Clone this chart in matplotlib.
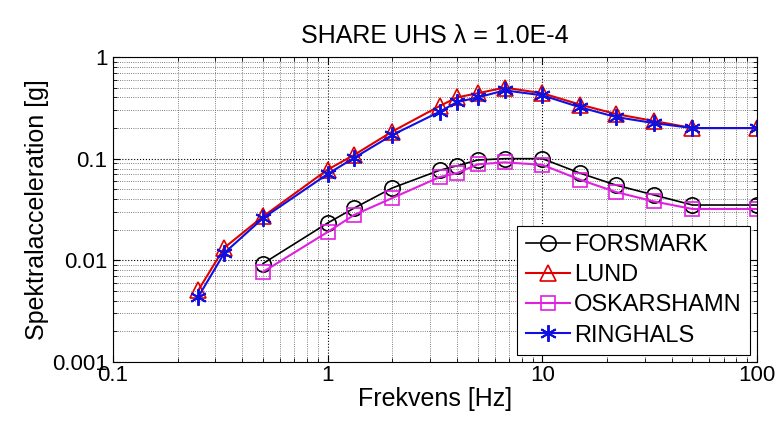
import matplotlib.pyplot as plt
from matplotlib.ticker import FixedLocator, NullFormatter, LogLocator

plt.rcParams['font.family'] = ['Liberation Sans', 'DejaVu Sans']

# frekvenser [Hz]
freq_all = [0.25, 0.33, 0.5, 1.0, 1.33, 2.0, 3.33, 4.0, 5.0, 6.67, 10, 15, 22, 33, 50, 100]
freq_sub = freq_all[2:]

forsmark = [0.0093, 0.0233, 0.0327, 0.0515, 0.077, 0.085, 0.097, 0.10, 0.10,
            0.072, 0.055, 0.044, 0.035, 0.035]
lund = [0.0051, 0.0133, 0.027, 0.078, 0.109, 0.185, 0.33, 0.40, 0.44, 0.50, 0.44,
        0.34, 0.275, 0.235, 0.20, 0.20]
oskarshamn = [0.0077, 0.019, 0.028, 0.041, 0.066, 0.072, 0.088, 0.092, 0.087,
              0.062, 0.047, 0.038, 0.032, 0.032]
ringhals = [0.0044, 0.0118, 0.026, 0.0707, 0.102, 0.171, 0.29, 0.36, 0.40, 0.47, 0.42,
            0.32, 0.257, 0.224, 0.20, 0.20]

fig = plt.figure(figsize=(7.81, 4.21), dpi=100)
ax = fig.add_axes([113 / 781, 1 - 362 / 421, (757 - 113) / 781, (362 - 57) / 421])

star = (6, 2, 0)
ax.plot(freq_sub, forsmark, '-o', color='black', lw=1.2, ms=11, mfc='none', mew=1.2, label='FORSMARK')
ax.plot(freq_all, lund, '-^', color='#e00000', lw=1.5, ms=11, mfc='none', mew=1.2, label='LUND')
ax.plot(freq_sub, oskarshamn, '-s', color='#e020e0', lw=1.5, ms=10, mfc='none', mew=1.2, label='OSKARSHAMN')
ax.plot(freq_all, ringhals, '-', marker=star, color='#1010e0', lw=1.5, ms=12, mew=1.4, label='RINGHALS')

ax.set_xscale('log')
ax.set_yscale('log')
ax.set_xlim(0.1, 100)
ax.set_ylim(0.001, 1)

ax.xaxis.set_major_locator(FixedLocator([0.1, 1, 10, 100]))
ax.set_xticklabels(['0.1', '1', '10', '100'])
ax.yaxis.set_major_locator(FixedLocator([0.001, 0.01, 0.1, 1]))
ax.set_yticklabels(['0.001', '0.01', '0.1', '1'])
ax.xaxis.set_minor_locator(LogLocator(base=10, subs=range(2, 10)))
ax.yaxis.set_minor_locator(LogLocator(base=10, subs=range(2, 10)))
ax.xaxis.set_minor_formatter(NullFormatter())
ax.yaxis.set_minor_formatter(NullFormatter())

ax.tick_params(which='both', direction='in', top=True, right=True, labelsize=16)
ax.tick_params(which='major', length=5)
ax.tick_params(which='minor', length=3)
ax.tick_params(axis='x', pad=2)
ax.tick_params(axis='y', pad=4)
ax.grid(True, which='major', linestyle=':', color='black', lw=0.8)
ax.grid(True, which='minor', linestyle=':', color='#555555', lw=0.6)

ax.set_xlabel('Frekvens [Hz]', fontsize=18, labelpad=1)
ax.set_ylabel('Spektralacceleration [g]', fontsize=18, labelpad=2)
ax.set_title('SHARE UHS \u03bb = 1.0E-4', fontsize=18, pad=10)

leg = ax.legend(loc='lower right', fontsize=17, fancybox=False, framealpha=1,
                edgecolor='black', handlelength=1.9, handletextpad=0.15,
                borderpad=0.35, labelspacing=0.35, borderaxespad=0.3)
leg.get_frame().set_linewidth(0.8)

fig.savefig('out.png', dpi=100)
